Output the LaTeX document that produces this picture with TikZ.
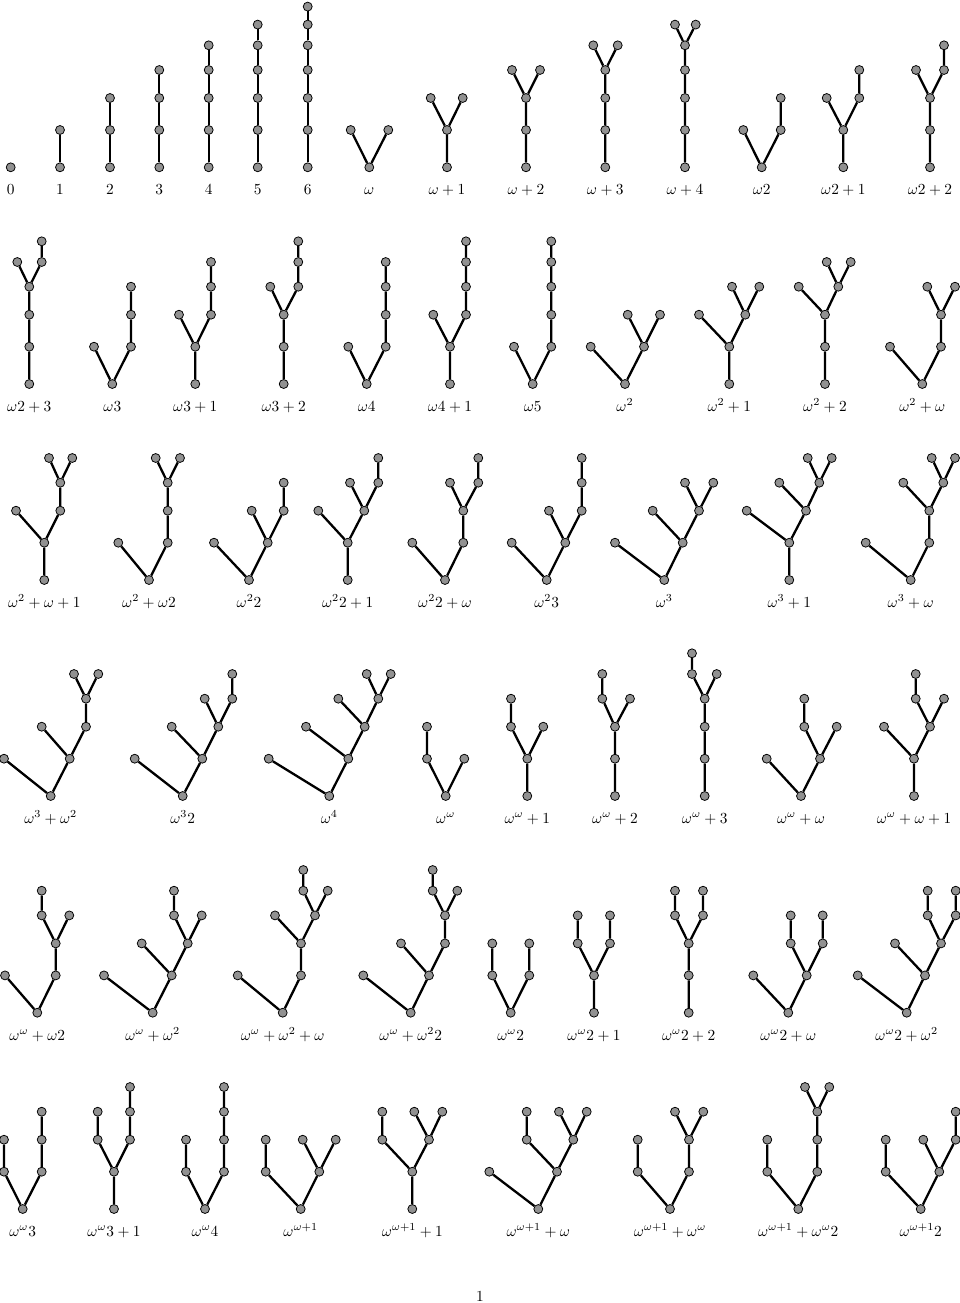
\documentclass[tikz,border=0pt]{standalone}
\begin{document}
\begin{tikzpicture}[x=0.65pt,y=-0.65pt,
  vtx/.style={circle,draw=black,line width=0.5pt,fill=black!43,inner sep=0pt,minimum size=5.8pt},
  edge/.style={line width=1.5pt,black},
  lab/.style={anchor=base,inner sep=0pt}]
\def\yA{0}\def\yB{-37.3}\def\yC{-69.3}\def\yD{-97.3}\def\yE{-122}\def\yF{-142.7}\def\yG{-160.7}
\newcommand\vx[3]{\node[vtx] (#1) at (#2,#3) {};}
\newcommand\tlabel[3]{\node[lab] (#1) at (#2,27.5) {$#3$};}
\useasboundingbox (0,0) rectangle (960,1303);
% ---------------- Row 1 ----------------
\begin{scope}[shift={(0,167.3)}]
\vx{A1r}{10.7}{\yA}
\tlabel{A1l}{10.7}{0}
\vx{A2r}{60}{\yA}\vx{A2a}{60}{\yB}
\draw[edge] (A2r)--(A2a);
\tlabel{A2l}{60}{1}
\vx{A3r}{110}{\yA}\vx{A3a}{110}{\yB}\vx{A3b}{110}{\yC}
\draw[edge] (A3r)--(A3a)--(A3b);
\tlabel{A3l}{110}{2}
\vx{A4r}{159.3}{\yA}\vx{A4a}{159.3}{\yB}\vx{A4b}{159.3}{\yC}\vx{A4c}{159.3}{\yD}
\draw[edge] (A4r)--(A4a)--(A4b)--(A4c);
\tlabel{A4l}{159.3}{3}
\vx{A5r}{208.7}{\yA}\vx{A5a}{208.7}{\yB}\vx{A5b}{208.7}{\yC}\vx{A5c}{208.7}{\yD}\vx{A5d}{208.7}{\yE}
\draw[edge] (A5r)--(A5a)--(A5b)--(A5c)--(A5d);
\tlabel{A5l}{208.7}{4}
\vx{A6r}{257.7}{\yA}\vx{A6a}{257.7}{\yB}\vx{A6b}{257.7}{\yC}\vx{A6c}{257.7}{\yD}\vx{A6d}{257.7}{\yE}\vx{A6e}{257.7}{\yF}
\draw[edge] (A6r)--(A6a)--(A6b)--(A6c)--(A6d)--(A6e);
\tlabel{A6l}{257.7}{5}
\vx{A7r}{307.7}{\yA}\vx{A7a}{307.7}{\yB}\vx{A7b}{307.7}{\yC}\vx{A7c}{307.7}{\yD}\vx{A7d}{307.7}{\yE}\vx{A7e}{307.7}{\yF}\vx{A7f}{307.7}{\yG}
\draw[edge] (A7r)--(A7a)--(A7b)--(A7c)--(A7d)--(A7e)--(A7f);
\tlabel{A7l}{307.7}{6}
\vx{A8r}{369.3}{\yA}\vx{A8a}{350.7}{\yB}\vx{A8b}{388.3}{\yB}
\draw[edge] (A8a)--(A8r)--(A8b);
\tlabel{A8l}{369.3}{\omega}
\vx{A9r}{447}{\yA}\vx{A9a}{447}{\yB}\vx{A9b}{430.7}{\yC}\vx{A9c}{462.7}{\yC}
\draw[edge] (A9r)--(A9a) (A9b)--(A9a)--(A9c);
\tlabel{A9l}{447}{\omega+1}
\vx{A10r}{526}{\yA}\vx{A10a}{526}{\yB}\vx{A10b}{526}{\yC}\vx{A10c}{512}{\yD}\vx{A10d}{540}{\yD}
\draw[edge] (A10r)--(A10a)--(A10b) (A10c)--(A10b)--(A10d);
\tlabel{A10l}{526}{\omega+2}
\vx{A11r}{605.3}{\yA}\vx{A11a}{605.3}{\yB}\vx{A11b}{605.3}{\yC}\vx{A11c}{605.3}{\yD}\vx{A11d}{593.3}{\yE}\vx{A11e}{617.7}{\yE}
\draw[edge] (A11r)--(A11a)--(A11b)--(A11c) (A11d)--(A11c)--(A11e);
\tlabel{A11l}{605.3}{\omega+3}
\vx{A12r}{685}{\yA}\vx{A12a}{685}{\yB}\vx{A12b}{685}{\yC}\vx{A12c}{685}{\yD}\vx{A12d}{685}{\yE}\vx{A12e}{675}{\yF}\vx{A12f}{695.7}{\yF}
\draw[edge] (A12r)--(A12a)--(A12b)--(A12c)--(A12d) (A12e)--(A12d)--(A12f);
\tlabel{A12l}{685}{\omega+4}
\vx{A13r}{761.7}{\yA}\vx{A13a}{743.3}{\yB}\vx{A13b}{780.7}{\yB}\vx{A13c}{780.7}{\yC}
\draw[edge] (A13a)--(A13r)--(A13b)--(A13c);
\tlabel{A13l}{761.7}{\omega2}
\vx{A14r}{843.3}{\yA}\vx{A14a}{843.3}{\yB}\vx{A14b}{826.7}{\yC}\vx{A14c}{859.3}{\yC}\vx{A14d}{859.3}{\yD}
\draw[edge] (A14r)--(A14a) (A14b)--(A14a)--(A14c)--(A14d);
\tlabel{A14l}{843.3}{\omega2+1}
\vx{A15r}{930}{\yA}\vx{A15a}{930}{\yB}\vx{A15b}{930}{\yC}\vx{A15c}{916}{\yD}\vx{A15d}{944}{\yD}\vx{A15e}{944}{\yE}
\draw[edge] (A15r)--(A15a)--(A15b) (A15c)--(A15b)--(A15d)--(A15e);
\tlabel{A15l}{930}{\omega2+2}
\end{scope}
% ---------------- Row 2 ----------------
\begin{scope}[shift={(0,384)}]
\vx{B1r}{29.3}{\yA}\vx{B1a}{29.3}{\yB}\vx{B1b}{29.3}{\yC}\vx{B1c}{29.3}{\yD}\vx{B1d}{17.3}{\yE}\vx{B1e}{41.7}{\yE}\vx{B1f}{41.7}{\yF}
\draw[edge] (B1r)--(B1a)--(B1b)--(B1c) (B1d)--(B1c)--(B1e)--(B1f);
\tlabel{B1l}{29.3}{\omega2+3}
\vx{B2r}{112.3}{\yA}\vx{B2a}{94}{\yB}\vx{B2b}{131}{\yB}\vx{B2c}{131}{\yC}\vx{B2d}{131}{\yD}
\draw[edge] (B2a)--(B2r)--(B2b)--(B2c)--(B2d);
\tlabel{B2l}{112.3}{\omega3}
\vx{B3r}{195.3}{\yA}\vx{B3a}{195.3}{\yB}\vx{B3b}{179}{\yC}\vx{B3c}{211}{\yC}\vx{B3d}{211}{\yD}\vx{B3e}{211}{\yE}
\draw[edge] (B3r)--(B3a) (B3b)--(B3a)--(B3c)--(B3d)--(B3e);
\tlabel{B3l}{195.3}{\omega3+1}
\vx{B4r}{283.7}{\yA}\vx{B4a}{283.7}{\yB}\vx{B4b}{283.7}{\yC}\vx{B4c}{270.3}{\yD}\vx{B4d}{298.3}{\yD}\vx{B4e}{298.3}{\yE}\vx{B4f}{298.3}{\yF}
\draw[edge] (B4r)--(B4a)--(B4b) (B4c)--(B4b)--(B4d)--(B4e)--(B4f);
\tlabel{B4l}{283.7}{\omega3+2}
\vx{B5r}{366.7}{\yA}\vx{B5a}{348.3}{\yB}\vx{B5b}{385.7}{\yB}\vx{B5c}{385.7}{\yC}\vx{B5d}{385.7}{\yD}\vx{B5e}{385.7}{\yE}
\draw[edge] (B5a)--(B5r)--(B5b)--(B5c)--(B5d)--(B5e);
\tlabel{B5l}{366.7}{\omega4}
\vx{B6r}{450}{\yA}\vx{B6a}{450}{\yB}\vx{B6b}{433.3}{\yC}\vx{B6c}{466}{\yC}\vx{B6d}{466}{\yD}\vx{B6e}{466}{\yE}\vx{B6f}{466}{\yF}
\draw[edge] (B6r)--(B6a) (B6b)--(B6a)--(B6c)--(B6d)--(B6e)--(B6f);
\tlabel{B6l}{450}{\omega4+1}
\vx{B7r}{532.7}{\yA}\vx{B7a}{514}{\yB}\vx{B7b}{551.3}{\yB}\vx{B7c}{551.3}{\yC}\vx{B7d}{551.3}{\yD}\vx{B7e}{551.3}{\yE}\vx{B7f}{551.3}{\yF}
\draw[edge] (B7a)--(B7r)--(B7b)--(B7c)--(B7d)--(B7e)--(B7f);
\tlabel{B7l}{532.7}{\omega5}
\vx{B8r}{625}{\yA}\vx{B8a}{590.7}{\yB}\vx{B8b}{644}{\yB}\vx{B8c}{627.7}{\yC}\vx{B8d}{660}{\yC}
\draw[edge] (B8a)--(B8r)--(B8b) (B8c)--(B8b)--(B8d);
\tlabel{B8l}{625}{\omega^2}
\vx{B9r}{729.3}{\yA}\vx{B9a}{729.3}{\yB}\vx{B9b}{699}{\yC}\vx{B9c}{745.3}{\yC}\vx{B9d}{732}{\yD}\vx{B9e}{759.3}{\yD}
\draw[edge] (B9r)--(B9a) (B9b)--(B9a)--(B9c) (B9d)--(B9c)--(B9e);
\tlabel{B9l}{729.3}{\omega^2+1}
\vx{B10r}{825}{\yA}\vx{B10a}{825}{\yB}\vx{B10b}{825}{\yC}\vx{B10c}{798.7}{\yD}\vx{B10d}{838.3}{\yD}\vx{B10e}{826.7}{\yE}\vx{B10f}{850.7}{\yE}
\draw[edge] (B10r)--(B10a)--(B10b) (B10c)--(B10b)--(B10d) (B10e)--(B10d)--(B10f);
\tlabel{B10l}{825}{\omega^2+2}
\vx{B11r}{922.3}{\yA}\vx{B11a}{890}{\yB}\vx{B11b}{941}{\yB}\vx{B11c}{941}{\yC}\vx{B11d}{927.3}{\yD}\vx{B11e}{955}{\yD}
\draw[edge] (B11a)--(B11r)--(B11b)--(B11c) (B11d)--(B11c)--(B11e);
\tlabel{B11l}{922.3}{\omega^2+\omega}
\end{scope}
% ---------------- Row 3 ----------------
\begin{scope}[shift={(0,580)}]
\vx{C1r}{44.3}{\yA}\vx{C1a}{44.3}{\yB}\vx{C1b}{16}{\yC}\vx{C1c}{60.3}{\yC}\vx{C1d}{60.3}{\yD}\vx{C1e}{49}{\yE}\vx{C1f}{72.3}{\yE}
\draw[edge] (C1r)--(C1a) (C1b)--(C1a)--(C1c)--(C1d) (C1e)--(C1d)--(C1f);
\tlabel{C1l}{44.3}{\omega^2+\omega+1}
\vx{C2r}{149}{\yA}\vx{C2a}{118.3}{\yB}\vx{C2b}{167.7}{\yB}\vx{C2c}{167.7}{\yC}\vx{C2d}{167.7}{\yD}\vx{C2e}{155.7}{\yE}\vx{C2f}{180}{\yE}
\draw[edge] (C2a)--(C2r)--(C2b)--(C2c)--(C2d) (C2e)--(C2d)--(C2f);
\tlabel{C2l}{149}{\omega^2+\omega2}
\vx{C3r}{249}{\yA}\vx{C3a}{214}{\yB}\vx{C3b}{267.7}{\yB}\vx{C3c}{251.7}{\yC}\vx{C3d}{283.7}{\yC}\vx{C3e}{283.7}{\yD}
\draw[edge] (C3a)--(C3r)--(C3b) (C3c)--(C3b)--(C3d)--(C3e);
\tlabel{C3l}{249}{\omega^22}
\vx{C4r}{347.7}{\yA}\vx{C4a}{347.7}{\yB}\vx{C4b}{318.3}{\yC}\vx{C4c}{364.3}{\yC}\vx{C4d}{350}{\yD}\vx{C4e}{378.3}{\yD}\vx{C4f}{378.3}{\yE}
\draw[edge] (C4r)--(C4a) (C4b)--(C4a)--(C4c) (C4d)--(C4c)--(C4e)--(C4f);
\tlabel{C4l}{347.7}{\omega^22+1}
\vx{C5r}{445}{\yA}\vx{C5a}{412.3}{\yB}\vx{C5b}{463.3}{\yB}\vx{C5c}{463.3}{\yC}\vx{C5d}{450}{\yD}\vx{C5e}{478.3}{\yD}\vx{C5f}{478.3}{\yE}
\draw[edge] (C5a)--(C5r)--(C5b)--(C5c) (C5d)--(C5c)--(C5e)--(C5f);
\tlabel{C5l}{445}{\omega^22+\omega}
\vx{C6r}{546.7}{\yA}\vx{C6a}{511.7}{\yB}\vx{C6b}{565.3}{\yB}\vx{C6c}{549}{\yC}\vx{C6d}{581.7}{\yC}\vx{C6e}{581.7}{\yD}\vx{C6f}{581.7}{\yE}
\draw[edge] (C6a)--(C6r)--(C6b) (C6c)--(C6b)--(C6d)--(C6e)--(C6f);
\tlabel{C6l}{546.7}{\omega^23}
\vx{C7r}{664.3}{\yA}\vx{C7a}{615}{\yB}\vx{C7b}{682.7}{\yB}\vx{C7c}{652.7}{\yC}\vx{C7d}{699}{\yC}\vx{C7e}{685}{\yD}\vx{C7f}{713.3}{\yD}
\draw[edge] (C7a)--(C7r)--(C7b) (C7c)--(C7b)--(C7d) (C7e)--(C7d)--(C7f);
\tlabel{C7l}{664.3}{\omega^3}
\vx{C8r}{789.3}{\yA}\vx{C8a}{789.3}{\yB}\vx{C8b}{746.7}{\yC}\vx{C8c}{806}{\yC}\vx{C8d}{779.3}{\yD}\vx{C8e}{819.3}{\yD}\vx{C8f}{807.7}{\yE}\vx{C8g}{831.7}{\yE}
\draw[edge] (C8r)--(C8a) (C8b)--(C8a)--(C8c) (C8d)--(C8c)--(C8e) (C8f)--(C8e)--(C8g);
\tlabel{C8l}{789.3}{\omega^3+1}
\vx{C9r}{910.7}{\yA}\vx{C9a}{865.7}{\yB}\vx{C9b}{929.3}{\yB}\vx{C9c}{929.3}{\yC}\vx{C9d}{903.3}{\yD}\vx{C9e}{943.3}{\yD}\vx{C9f}{931.7}{\yE}\vx{C9g}{955}{\yE}
\draw[edge] (C9a)--(C9r)--(C9b)--(C9c) (C9d)--(C9c)--(C9e) (C9f)--(C9e)--(C9g);
\tlabel{C9l}{910.7}{\omega^3+\omega}
\end{scope}
% ---------------- Row 4 ----------------
\begin{scope}[shift={(0,796)}]
\vx{D1r}{50.7}{\yA}\vx{D1a}{4}{\yB}\vx{D1b}{69.7}{\yB}\vx{D1c}{41.7}{\yC}\vx{D1d}{86}{\yC}\vx{D1e}{86}{\yD}\vx{D1f}{74}{\yE}\vx{D1g}{98.3}{\yE}
\draw[edge] (D1a)--(D1r)--(D1b) (D1c)--(D1b)--(D1d)--(D1e) (D1f)--(D1e)--(D1g);
\tlabel{D1l}{50.7}{\omega^3+\omega^2}
\vx{D2r}{182.7}{\yA}\vx{D2a}{134.7}{\yB}\vx{D2b}{202.3}{\yB}\vx{D2c}{171.7}{\yC}\vx{D2d}{218.3}{\yC}\vx{D2e}{204.7}{\yD}\vx{D2f}{232.3}{\yD}\vx{D2g}{232.3}{\yE}
\draw[edge] (D2a)--(D2r)--(D2b) (D2c)--(D2b)--(D2d) (D2e)--(D2d)--(D2f)--(D2g);
\tlabel{D2l}{182.7}{\omega^32}
\vx{D3r}{329.3}{\yA}\vx{D3a}{268.7}{\yB}\vx{D3b}{348.3}{\yB}\vx{D3c}{306}{\yC}\vx{D3d}{364.7}{\yC}\vx{D3e}{338.3}{\yD}\vx{D3f}{378.3}{\yD}\vx{D3g}{366.7}{\yE}\vx{D3h}{390.7}{\yE}
\draw[edge] (D3a)--(D3r)--(D3b) (D3c)--(D3b)--(D3d) (D3e)--(D3d)--(D3f) (D3g)--(D3f)--(D3h);
\tlabel{D3l}{329.3}{\omega^4}
\vx{D4r}{445.7}{\yA}\vx{D4a}{427}{\yB}\vx{D4b}{427}{\yC}\vx{D4c}{464.3}{\yB}
\draw[edge] (D4b)--(D4a)--(D4r)--(D4c);
\tlabel{D4l}{445.7}{\omega^\omega}
\vx{D5r}{527.3}{\yA}\vx{D5a}{527.3}{\yB}\vx{D5b}{511}{\yC}\vx{D5c}{511}{\yD}\vx{D5d}{543.3}{\yC}
\draw[edge] (D5r)--(D5a) (D5c)--(D5b)--(D5a)--(D5d);
\tlabel{D5l}{527.3}{\omega^\omega+1}
\vx{D6r}{615}{\yA}\vx{D6a}{615}{\yB}\vx{D6b}{615}{\yC}\vx{D6c}{602.3}{\yD}\vx{D6d}{602.3}{\yE}\vx{D6e}{630}{\yD}
\draw[edge] (D6r)--(D6a)--(D6b) (D6d)--(D6c)--(D6b)--(D6e);
\tlabel{D6l}{615}{\omega^\omega+2}
\vx{D7r}{704.7}{\yA}\vx{D7a}{704.7}{\yB}\vx{D7b}{704.7}{\yC}\vx{D7c}{704.7}{\yD}\vx{D7d}{692}{\yE}\vx{D7e}{692}{\yF}\vx{D7f}{716.7}{\yE}
\draw[edge] (D7r)--(D7a)--(D7b)--(D7c) (D7e)--(D7d)--(D7c)--(D7f);
\tlabel{D7l}{704.7}{\omega^\omega+3}
\vx{D8r}{801}{\yA}\vx{D8a}{766.7}{\yB}\vx{D8b}{820}{\yB}\vx{D8c}{804.3}{\yC}\vx{D8d}{804.3}{\yD}\vx{D8e}{836.7}{\yC}
\draw[edge] (D8a)--(D8r)--(D8b) (D8d)--(D8c)--(D8b)--(D8e);
\tlabel{D8l}{801}{\omega^\omega+\omega}
\vx{D9r}{914}{\yA}\vx{D9a}{914}{\yB}\vx{D9b}{884}{\yC}\vx{D9c}{930}{\yC}\vx{D9d}{915.7}{\yD}\vx{D9e}{915.7}{\yE}\vx{D9f}{944}{\yD}
\draw[edge] (D9r)--(D9a) (D9b)--(D9a)--(D9c) (D9e)--(D9d)--(D9c)--(D9f);
\tlabel{D9l}{914}{\omega^\omega+\omega+1}
\end{scope}
% ---------------- Row 5 ----------------
\begin{scope}[shift={(0,1012.7)}]
\vx{E1r}{37.3}{\yA}\vx{E1a}{5}{\yB}\vx{E1b}{55.7}{\yB}\vx{E1c}{55.7}{\yC}\vx{E1d}{41.7}{\yD}\vx{E1e}{41.7}{\yE}\vx{E1f}{69.3}{\yD}
\draw[edge] (E1a)--(E1r)--(E1b)--(E1c) (E1e)--(E1d)--(E1c)--(E1f);
\tlabel{E1l}{37.3}{\omega^\omega+\omega2}
\vx{E2r}{152.7}{\yA}\vx{E2a}{104}{\yB}\vx{E2b}{171.7}{\yB}\vx{E2c}{141.7}{\yC}\vx{E2d}{187.7}{\yC}\vx{E2e}{174}{\yD}\vx{E2f}{174}{\yE}\vx{E2g}{201.7}{\yD}
\draw[edge] (E2a)--(E2r)--(E2b) (E2c)--(E2b)--(E2d) (E2f)--(E2e)--(E2d)--(E2g);
\tlabel{E2l}{152.7}{\omega^\omega+\omega^2}
\vx{E3r}{282.7}{\yA}\vx{E3a}{237.7}{\yB}\vx{E3b}{301}{\yB}\vx{E3c}{301}{\yC}\vx{E3d}{275}{\yD}\vx{E3e}{315}{\yD}\vx{E3f}{303.3}{\yE}\vx{E3g}{303.3}{\yF}\vx{E3h}{327.7}{\yE}
\draw[edge] (E3a)--(E3r)--(E3b)--(E3c) (E3d)--(E3c)--(E3e) (E3g)--(E3f)--(E3e)--(E3h);
\tlabel{E3l}{282.7}{\omega^\omega+\omega^2+\omega}
\vx{E4r}{410.7}{\yA}\vx{E4a}{363.3}{\yB}\vx{E4b}{429}{\yB}\vx{E4c}{401}{\yC}\vx{E4d}{445}{\yC}\vx{E4e}{445}{\yD}\vx{E4f}{432.7}{\yE}\vx{E4g}{432.7}{\yF}\vx{E4h}{457.3}{\yE}
\draw[edge] (E4a)--(E4r)--(E4b) (E4c)--(E4b)--(E4d)--(E4e) (E4g)--(E4f)--(E4e)--(E4h);
\tlabel{E4l}{410.7}{\omega^\omega+\omega^22}
\vx{E5r}{510.7}{\yA}\vx{E5a}{492.3}{\yB}\vx{E5b}{492.3}{\yC}\vx{E5c}{529.3}{\yB}\vx{E5d}{529.3}{\yC}
\draw[edge] (E5b)--(E5a)--(E5r)--(E5c)--(E5d);
\tlabel{E5l}{510.7}{\omega^\omega2}
\vx{E6r}{594}{\yA}\vx{E6a}{594}{\yB}\vx{E6b}{577.7}{\yC}\vx{E6c}{577.7}{\yD}\vx{E6d}{610}{\yC}\vx{E6e}{610}{\yD}
\draw[edge] (E6r)--(E6a) (E6c)--(E6b)--(E6a)--(E6d)--(E6e);
\tlabel{E6l}{594}{\omega^\omega2+1}
\vx{E7r}{688.7}{\yA}\vx{E7a}{688.7}{\yB}\vx{E7b}{688.7}{\yC}\vx{E7c}{675}{\yD}\vx{E7d}{675}{\yE}\vx{E7e}{703}{\yD}\vx{E7f}{703}{\yE}
\draw[edge] (E7r)--(E7a)--(E7b) (E7d)--(E7c)--(E7b)--(E7e)--(E7f);
\tlabel{E7l}{688.7}{\omega^\omega2+2}
\vx{E8r}{788.3}{\yA}\vx{E8a}{753.3}{\yB}\vx{E8b}{806.7}{\yB}\vx{E8c}{790.7}{\yC}\vx{E8d}{790.7}{\yD}\vx{E8e}{822.7}{\yC}\vx{E8f}{822.7}{\yD}
\draw[edge] (E8a)--(E8r)--(E8b) (E8d)--(E8c)--(E8b)--(E8e)--(E8f);
\tlabel{E8l}{788.3}{\omega^\omega2+\omega}
\vx{E9r}{906.7}{\yA}\vx{E9a}{857.7}{\yB}\vx{E9b}{925}{\yB}\vx{E9c}{895}{\yC}\vx{E9d}{941}{\yC}\vx{E9e}{927.7}{\yD}\vx{E9f}{927.7}{\yE}\vx{E9g}{955.7}{\yD}\vx{E9h}{955.7}{\yE}
\draw[edge] (E9a)--(E9r)--(E9b) (E9c)--(E9b)--(E9d) (E9f)--(E9e)--(E9d)--(E9g)--(E9h);
\tlabel{E9l}{906.7}{\omega^\omega2+\omega^2}
\end{scope}
% ---------------- Row 6 ----------------
\begin{scope}[shift={(0,1209)}]
\vx{F1r}{22.7}{\yA}\vx{F1a}{4}{\yB}\vx{F1b}{4}{\yC}\vx{F1c}{41.7}{\yB}\vx{F1d}{41.7}{\yC}\vx{F1e}{41.7}{\yD}
\draw[edge] (F1b)--(F1a)--(F1r)--(F1c)--(F1d)--(F1e);
\tlabel{F1l}{22.7}{\omega^\omega3}
\vx{F2r}{114}{\yA}\vx{F2a}{114}{\yB}\vx{F2b}{97.7}{\yC}\vx{F2c}{97.7}{\yD}\vx{F2d}{130}{\yC}\vx{F2e}{130}{\yD}\vx{F2f}{130}{\yE}
\draw[edge] (F2r)--(F2a) (F2c)--(F2b)--(F2a)--(F2d)--(F2e)--(F2f);
\tlabel{F2l}{114}{\omega^\omega3+1}
\vx{F3r}{205}{\yA}\vx{F3a}{186}{\yB}\vx{F3b}{186}{\yC}\vx{F3c}{224}{\yB}\vx{F3d}{224}{\yC}\vx{F3e}{224}{\yD}\vx{F3f}{224}{\yE}
\draw[edge] (F3b)--(F3a)--(F3r)--(F3c)--(F3d)--(F3e)--(F3f);
\tlabel{F3l}{205}{\omega^\omega4}
\vx{F4r}{300.7}{\yA}\vx{F4a}{265.7}{\yB}\vx{F4b}{265.7}{\yC}\vx{F4c}{319.3}{\yB}\vx{F4d}{302.7}{\yC}\vx{F4e}{335.7}{\yC}
\draw[edge] (F4b)--(F4a)--(F4r)--(F4c) (F4d)--(F4c)--(F4e);
\tlabel{F4l}{300.7}{\omega^{\omega+1}}
\vx{F5r}{412.3}{\yA}\vx{F5a}{412.3}{\yB}\vx{F5b}{382.3}{\yC}\vx{F5c}{382.3}{\yD}\vx{F5d}{429}{\yC}\vx{F5e}{414.3}{\yD}\vx{F5f}{442.3}{\yD}
\draw[edge] (F5r)--(F5a) (F5c)--(F5b)--(F5a)--(F5d) (F5e)--(F5d)--(F5f);
\tlabel{F5l}{412.3}{\omega^{\omega+1}+1}
\vx{F6r}{538.3}{\yA}\vx{F6a}{489.3}{\yB}\vx{F6b}{557}{\yB}\vx{F6c}{526.7}{\yC}\vx{F6d}{526.7}{\yD}\vx{F6e}{573.3}{\yC}\vx{F6f}{559}{\yD}\vx{F6g}{586.7}{\yD}
\draw[edge] (F6a)--(F6r)--(F6b) (F6d)--(F6c)--(F6b)--(F6e) (F6f)--(F6e)--(F6g);
\tlabel{F6l}{538.3}{\omega^{\omega+1}+\omega}
\vx{F7r}{670}{\yA}\vx{F7a}{637.7}{\yB}\vx{F7b}{637.7}{\yC}\vx{F7c}{689}{\yB}\vx{F7d}{689}{\yC}\vx{F7e}{675}{\yD}\vx{F7f}{703.3}{\yD}
\draw[edge] (F7b)--(F7a)--(F7r)--(F7c)--(F7d) (F7e)--(F7d)--(F7f);
\tlabel{F7l}{670}{\omega^{\omega+1}+\omega^\omega}
\vx{F8r}{798.3}{\yA}\vx{F8a}{767.3}{\yB}\vx{F8b}{767.3}{\yC}\vx{F8c}{817.3}{\yB}\vx{F8d}{817.3}{\yC}\vx{F8e}{817.3}{\yD}\vx{F8f}{805}{\yE}\vx{F8g}{829.3}{\yE}
\draw[edge] (F8b)--(F8a)--(F8r)--(F8c)--(F8d)--(F8e) (F8f)--(F8e)--(F8g);
\tlabel{F8l}{798.3}{\omega^{\omega+1}+\omega^\omega2}
\vx{F9r}{920.7}{\yA}\vx{F9a}{885.7}{\yB}\vx{F9b}{885.7}{\yC}\vx{F9c}{939.3}{\yB}\vx{F9d}{923.3}{\yC}\vx{F9e}{955.7}{\yC}\vx{F9f}{955.7}{\yD}
\draw[edge] (F9b)--(F9a)--(F9r)--(F9c) (F9d)--(F9c)--(F9e)--(F9f);
\tlabel{F9l}{920.7}{\omega^{\omega+1}2}
\end{scope}
% page number
\node[lab] (pagenum) at (480,1301) {1};
\end{tikzpicture}
\end{document}
